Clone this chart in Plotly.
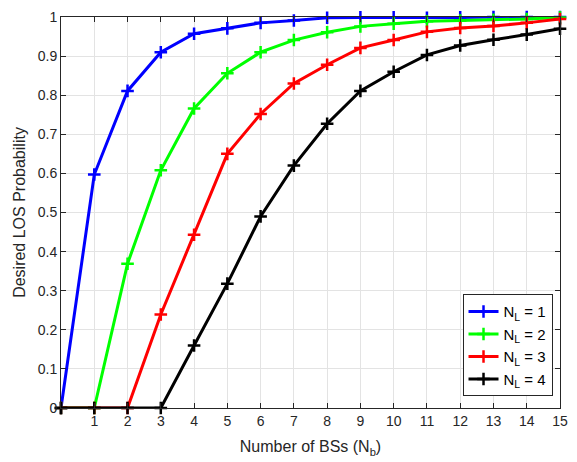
import plotly.graph_objects as go

x_bs = list(range(16))
p_nl1 = [0, 0.597, 0.811, 0.910, 0.957, 0.971, 0.985, 0.991, 0.998, 0.999, 0.999, 0.998, 0.999, 1.0, 1.0, 1.0]
p_nl2 = [0, 0, 0.369, 0.608, 0.766, 0.856, 0.910, 0.941, 0.961, 0.976, 0.983, 0.989, 0.991, 0.993, 0.995, 0.999]
p_nl3 = [0, 0, 0, 0.239, 0.443, 0.650, 0.752, 0.830, 0.878, 0.921, 0.941, 0.962, 0.972, 0.977, 0.985, 0.995]
p_nl4 = [0, 0, 0, 0, 0.160, 0.318, 0.490, 0.620, 0.727, 0.811, 0.860, 0.903, 0.927, 0.942, 0.955, 0.970]

series = [
    ("N<sub>L</sub> = 1", p_nl1, "#0000FF"),
    ("N<sub>L</sub> = 2", p_nl2, "#00FF00"),
    ("N<sub>L</sub> = 3", p_nl3, "#FF0000"),
    ("N<sub>L</sub> = 4", p_nl4, "#000000"),
]

x_ticks = list(range(1, 16))
y_ticks = [i / 10 for i in range(11)]
y_ticktext = ["0"] + [f"{v:.1f}" for v in y_ticks[1:-1]] + ["1"]

fig = go.Figure()
for name, ys, col in series:
    fig.add_trace(go.Scatter(
        x=x_bs, y=ys, name=name, mode="lines+markers",
        line=dict(color=col, width=3),
        marker=dict(symbol="cross-thin", size=9, color=col, line=dict(color=col, width=2.5)),
        cliponaxis=False,
    ))

font = "Liberation Sans, Arial, Helvetica, sans-serif"
axis_common = dict(
    showline=True, linecolor="#262626", linewidth=1, mirror="ticks",
    ticks="inside", ticklen=5, tickcolor="#262626",
    showgrid=True, gridcolor="#E3E3E3", gridwidth=1, zeroline=False,
    tickfont=dict(family=font, size=14, color="#262626"),
)

fig.update_layout(
    width=577, height=462,
    margin=dict(l=61, r=9, t=14, b=54),
    paper_bgcolor="white", plot_bgcolor="white",
    font=dict(family=font, size=14, color="#262626"),
    xaxis=dict(range=[0, 15], tickvals=x_ticks,
               title=dict(text="Number of BSs (N<sub>b</sub>)", font=dict(size=16), standoff=13),
               **axis_common),
    yaxis=dict(range=[0, 1], tickvals=y_ticks, ticktext=y_ticktext,
               title=dict(text="Desired LOS Probability", font=dict(size=16), standoff=8),
               **axis_common),
    legend=dict(x=0.985, y=0.03, xanchor="right", yanchor="bottom",
                bgcolor="white", bordercolor="#262626", borderwidth=1,
                font=dict(family=font, size=15, color="black"),
                tracegroupgap=0),
    showlegend=True,
)

fig.write_html("out.html")
